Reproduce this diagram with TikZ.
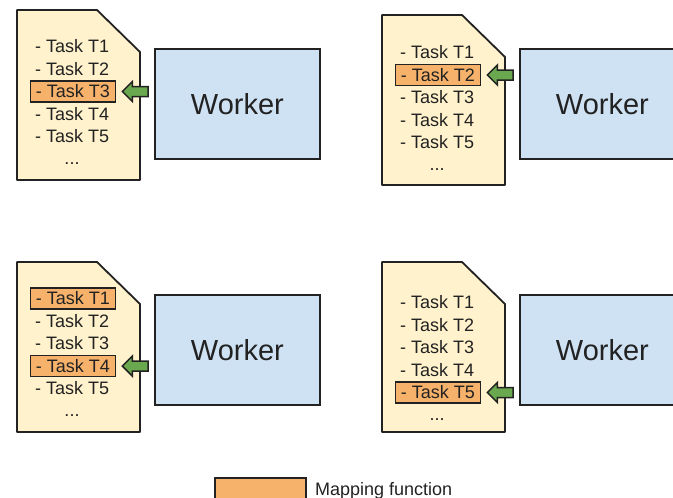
\documentclass[tikz,border=0pt]{standalone}
\usepackage{fontspec}
\setmainfont{Liberation Sans}
\usetikzlibrary{calc}

\definecolor{docfill}{HTML}{FFF2CC}
\definecolor{workerfill}{HTML}{CFE2F3}
\definecolor{mapfill}{HTML}{F6B26B}
\definecolor{arrowfill}{HTML}{6AA84F}
\definecolor{edgecol}{HTML}{222222}

\tikzset{
  outline/.style={draw=edgecol, line width=1.8pt},
  docshape/.style={outline, fill=docfill, line join=round},
  worker/.style={outline, fill=workerfill, inner sep=0pt, anchor=north west,
    minimum width=165pt, minimum height=110pt,
    font=\fontsize{29}{32}\selectfont, text=edgecol},
  task/.style={anchor=base west, inner xsep=5.5pt, inner ysep=2pt,
    text height=14.5pt, text depth=2.5pt,
    font=\fontsize{18}{20}\selectfont, text=edgecol},
  unmapped/.style={},
  mapped/.style={outline, fill=mapfill},
  dots/.style={anchor=base, inner sep=0pt, font=\fontsize{18}{20}\selectfont, text=edgecol},
  pointer/.style={draw=edgecol, line width=1.5pt, fill=arrowfill, line join=miter},
}

% fat arrow from the left side of a worker (#1) to a list entry (#2)
\newcommand\pointto[2]{%
  \draw[pointer] let \p1=(#1.west), \p2=(#2.east) in
    (\x2+6pt,\y2) -- (\x2+16pt,\y2+10pt) -- (\x2+16pt,\y2+5pt)
    -- (\x1-6pt,\y2+5pt) -- (\x1-6pt,\y2-5pt)
    -- (\x2+16pt,\y2-5pt) -- (\x2+16pt,\y2-10pt) -- cycle;}

% task document: #1 prefix, #2 left x, #3 top y, #4 first baseline, #5 entry styles
\newcommand\taskdoc[5]{%
  \draw[docshape] (#2,#3) -- (#2+80,#3) -- (#2+123,#3+42) -- (#2+123,#3+170)
    -- (#2,#3+170) -- cycle;
  \foreach \i/\hl in {#5}
    \node[task, \hl] (#1\i) at (#2+12.5, #4+22.5*\i-22.5) {- Task T\i};
  \node[dots] (#1dots) at (#2+55, #4+111.5) {...};
}

\begin{document}
\begin{tikzpicture}[x=1pt, y=-1pt]
  \clip (0,0) rectangle (673,498);

  % top left: worker points at T3
  \taskdoc{a}{17}{10}{52.5}{1/unmapped,2/unmapped,3/mapped,4/unmapped,5/unmapped}
  \node[worker] (wa) at (154,48) {Worker};
  \pointto{wa}{a3}

  % top right: worker points at T2
  \taskdoc{b}{382}{15}{58.5}{1/unmapped,2/mapped,3/unmapped,4/unmapped,5/unmapped}
  \node[worker] (wb) at (519,48) {Worker};
  \pointto{wb}{b2}

  % bottom left: T1 and T4 mapped, worker points at T4
  \taskdoc{c}{17}{262}{304.5}{1/mapped,2/unmapped,3/unmapped,4/mapped,5/unmapped}
  \node[worker] (wc) at (154,294) {Worker};
  \pointto{wc}{c4}

  % bottom right: worker points at T5
  \taskdoc{d}{382}{262}{308.5}{1/unmapped,2/unmapped,3/unmapped,4/unmapped,5/mapped}
  \node[worker] (wd) at (519,294) {Worker};
  \pointto{wd}{d5}

  % legend
  \node[mapped, inner sep=0pt, anchor=north west, minimum width=91pt,
    minimum height=22pt] (key) at (214,477) {};
  \node[anchor=base west, inner sep=0pt, font=\fontsize{18}{20}\selectfont,
    text=edgecol] (keylabel) at (315,495.5) {Mapping function};
\end{tikzpicture}
\end{document}
